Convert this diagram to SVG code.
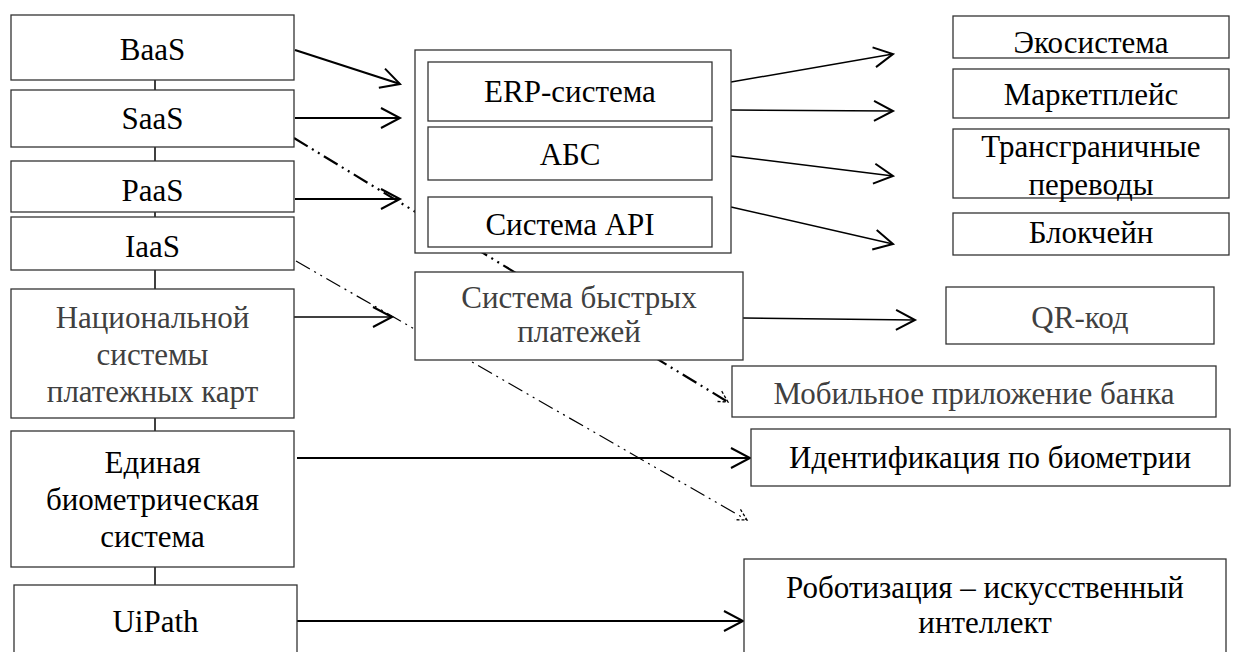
<svg xmlns="http://www.w3.org/2000/svg" width="1238" height="652" viewBox="0 0 1238 652">
<style>
.box{fill:#fff;stroke:#333;stroke-width:1.3}
.t{font-family:'Liberation Serif','Times New Roman',Times,serif;font-size:31px;fill:#000;text-anchor:middle}
.g{fill:#404040}
.c{fill:none;stroke:#000}
.th{stroke-width:2.2}
.tn{stroke-width:1.5}
.dd{stroke-dasharray:16 5 2 5 2 5}
</style>
<defs>
<marker id="arr" markerUnits="userSpaceOnUse" markerWidth="30" markerHeight="30" refX="0" refY="0" viewBox="-22 -15 30 30" orient="auto">
<path d="M-19,-10 L0,0 L-19,10" fill="none" stroke="#000" stroke-width="2"/>
</marker>
<marker id="arrs" markerUnits="userSpaceOnUse" markerWidth="20" markerHeight="20" refX="0" refY="0" viewBox="-15 -10 20 20" orient="auto">
<path d="M-11,-6 L0,0 L-11,6" fill="none" stroke="#000" stroke-width="1.3" stroke-dasharray="3 2"/>
</marker>
</defs>

<g id="connectors">
<line x1="155" y1="80" x2="155" y2="90" class="c tn"/>
<line x1="155" y1="147" x2="155" y2="161" class="c tn"/>
<line x1="155" y1="212" x2="155" y2="217" class="c tn"/>
<line x1="155" y1="270" x2="155" y2="289" class="c tn"/>
<line x1="155" y1="418" x2="155" y2="431" class="c tn"/>
<line x1="155" y1="567" x2="155" y2="585" class="c tn"/>
<line x1="295" y1="50" x2="400" y2="84" class="c th" marker-end="url(#arr)"/>
<line x1="295" y1="118" x2="400" y2="118" class="c th" marker-end="url(#arr)"/>
<line x1="295" y1="199" x2="400" y2="199" class="c th" marker-end="url(#arr)"/>
<line x1="294" y1="138" x2="728" y2="402" class="c th dd" marker-end="url(#arrs)"/>
<line x1="296" y1="261" x2="747" y2="520" class="c dd" stroke-width="1.2" marker-end="url(#arrs)"/>
<line x1="294" y1="317" x2="392" y2="317" class="c tn" marker-end="url(#arr)"/>
<line x1="743" y1="318" x2="915" y2="320" class="c tn" marker-end="url(#arr)"/>
<line x1="297" y1="458" x2="750" y2="458" class="c th" marker-end="url(#arr)"/>
<line x1="297" y1="621" x2="743" y2="621" class="c th" marker-end="url(#arr)"/>
<line x1="731" y1="82" x2="893" y2="54" class="c tn" marker-end="url(#arr)"/>
<line x1="731" y1="110" x2="893" y2="111" class="c tn" marker-end="url(#arr)"/>
<line x1="731" y1="156" x2="893" y2="176" class="c tn" marker-end="url(#arr)"/>
<line x1="731" y1="207" x2="893" y2="244" class="c tn" marker-end="url(#arr)"/>
</g>

<g id="baas"><rect class="box" x="11" y="15" width="283" height="65"/><text class="t" x="152.5" y="60">BaaS</text></g>
<g id="saas"><rect class="box" x="11" y="90" width="283" height="57"/><text class="t" x="152.5" y="129">SaaS</text></g>
<g id="paas"><rect class="box" x="11" y="161" width="283" height="51"/><text class="t" x="152.5" y="201">PaaS</text></g>
<g id="iaas"><rect class="box" x="11" y="217" width="283" height="53"/><text class="t" x="152.5" y="257">IaaS</text></g>
<g id="nspk"><rect class="box" x="11" y="289" width="283" height="129"/><text class="t g" x="152.5" y="328">Национальной</text><text class="t g" x="152.5" y="365">системы</text><text class="t g" x="152.5" y="402">платежных карт</text></g>
<g id="ebs"><rect class="box" x="11" y="431" width="283" height="136"/><text class="t" x="152.5" y="473">Единая</text><text class="t" x="152.5" y="510">биометрическая</text><text class="t" x="152.5" y="547">система</text></g>
<g id="uipath"><rect class="box" x="14" y="585" width="283" height="80"/><text class="t" x="155.5" y="632">UiPath</text></g>

<g id="systems"><rect class="box" x="415" y="50" width="316" height="203"/></g>
<g id="erp"><rect class="box" x="428" y="62" width="284" height="59"/><text class="t" x="570" y="102">ERP-система</text></g>
<g id="abs"><rect class="box" x="428" y="127" width="284" height="53"/><text class="t" x="570" y="165">АБС</text></g>
<g id="api"><rect class="box" x="428" y="197" width="284" height="50"/><text class="t" x="570" y="235">Система API</text></g>
<g id="sbp"><rect class="box" x="415" y="272" width="328" height="88"/><text class="t g" x="579" y="308">Система быстрых</text><text class="t g" x="579" y="342">платежей</text></g>

<g id="eco"><rect class="box" x="953" y="16" width="276" height="42"/><text class="t" x="1091" y="53">Экосистема</text></g>
<g id="market"><rect class="box" x="953" y="69" width="276" height="49"/><text class="t" x="1091" y="105">Маркетплейс</text></g>
<g id="trans"><rect class="box" x="953" y="129" width="276" height="69"/><text class="t" x="1091" y="157">Трансграничные</text><text class="t" x="1091" y="195">переводы</text></g>
<g id="block"><rect class="box" x="953" y="213" width="276" height="42"/><text class="t" x="1091" y="243">Блокчейн</text></g>
<g id="qr"><rect class="box" x="946" y="287" width="268" height="57"/><text class="t g" x="1080" y="328">QR-код</text></g>
<g id="mobile"><rect class="box" x="732" y="366" width="484" height="51"/><text class="t g" x="974" y="404">Мобильное приложение банка</text></g>
<g id="ident"><rect class="box" x="751" y="429" width="479" height="57"/><text class="t" x="990" y="468">Идентификация по биометрии</text></g>
<g id="robot"><rect class="box" x="744" y="559" width="482" height="110"/><text class="t" x="985" y="598">Роботизация – искусственный</text><text class="t" x="985" y="633">интеллект</text></g>
</svg>
